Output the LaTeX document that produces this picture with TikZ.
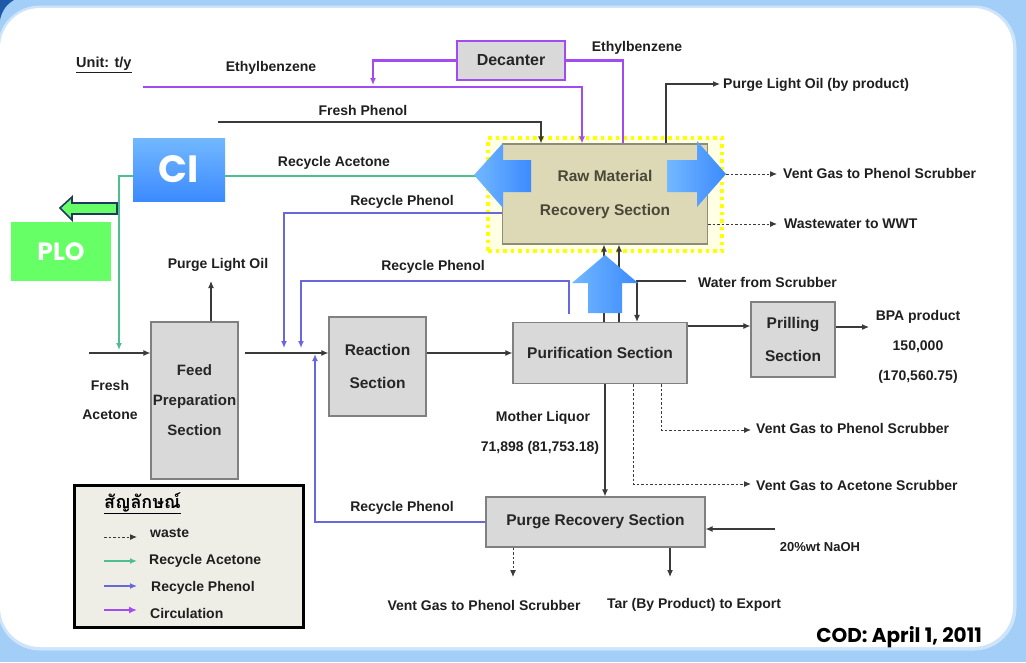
\documentclass[tikz,border=0pt]{standalone}
\usepackage{fontspec}
\setmainfont{Liberation Sans}
\newfontfamily\popfont{Poppins}
\newfontfamily\thaifont[Script=Thai]{Loma}
\usetikzlibrary{arrows.meta,calc}
\definecolor{framebl}{HTML}{A3CEF7}
\definecolor{framedk}{HTML}{1F5AA8}
\definecolor{boxgray}{HTML}{D9D9D9}
\definecolor{boxline}{HTML}{808080}
\definecolor{rawfill}{HTML}{DDD9B6}
\definecolor{rawline}{HTML}{8C8C78}
\definecolor{rawtext}{HTML}{4A4838}
\definecolor{purp}{HTML}{A24BF0}
\definecolor{accg}{HTML}{4DBF8F}
\definecolor{phbl}{HTML}{6868DC}
\definecolor{flowc}{HTML}{3A3A3A}
\definecolor{ydot}{HTML}{FFFF00}
\definecolor{yfill}{HTML}{FFFFE3}
\definecolor{bluelt}{HTML}{72B8FF}
\definecolor{bluedk}{HTML}{3C8AFF}
\definecolor{plog}{HTML}{66FF66}
\definecolor{navy}{HTML}{1F3A5C}
\definecolor{legfill}{HTML}{EFEEE6}
\tikzset{
  box/.style={draw=boxline, fill=boxgray, line width=1.2pt, inner sep=0pt, align=center, text=black!85, font=\fontsize{15.5}{33}\selectfont\bfseries},
  lbl/.style={inner sep=0pt, text=black!88, font=\fontsize{14}{16}\selectfont\bfseries},
  smalltip/.style={-{Latex[length=7pt,width=6pt]}},
  flow/.style={draw=flowc, line width=1.1pt, smalltip},
  waste/.style={draw=flowc, line width=1pt, dash pattern=on 2.5pt off 2pt, smalltip},
  circ/.style={draw=purp, line width=2.2pt},
  acc/.style={draw=accg, line width=1.6pt, smalltip},
  rp/.style={draw=phbl, line width=1.3pt, smalltip},
  bigarrow/.style={left color=bluelt, right color=bluedk, draw=none},
}
\begin{document}
\begin{tikzpicture}[x=1pt,y=-1pt]
\useasboundingbox (0,0) rectangle (1026,662);
% frame
\fill[framebl] (0,0) rectangle (1026,662);
\fill[framedk] (0,0) -- (14,0) .. controls (7,4) and (2,10) .. (0,20) -- cycle;
\draw[framebl!55, line width=5pt, rounded corners=40pt] (0,8) rectangle (1014,648);
\fill[white, rounded corners=40pt] (0,8) rectangle (1013,647);

% zone and boxes
\node[draw=ydot, fill=yfill, line width=3.5pt, dash pattern=on 3.5pt off 4pt, minimum width=234pt, minimum height=113pt, inner sep=0pt] (yzone) at (605,194.5) {};
\node[box, draw=purp, line width=2pt, minimum width=108pt, minimum height=39pt, font=\fontsize{16}{18}\selectfont\bfseries] (dec) at (511,60.5) {Decanter};
\node[box, fill=rawfill, draw=rawline, text=rawtext, minimum width=205pt, minimum height=100pt, font=\fontsize{15.5}{34}\selectfont\bfseries] (raw) at (605,194) {Raw Material\\Recovery Section};
\node[box, minimum width=87pt, minimum height=157pt, font=\fontsize{15}{30}\selectfont\bfseries] (feed) at (194.5,400.5) {Feed\\Preparation\\Section};
\node[box, minimum width=97pt, minimum height=99pt] (react) at (377.5,366.5) {Reaction\\Section};
\node[box, minimum width=174pt, minimum height=61pt] (purif) at (600,353) {Purification Section};
\node[box, minimum width=84pt, minimum height=75pt] (prill) at (793,339.5) {Prilling\\Section};
\node[box, minimum width=219pt, minimum height=50pt] (purge) at (595.5,522) {Purge Recovery Section};

% coordinates for free ends
\coordinate (eb0) at (143,87);
\coordinate (ebj) at (373,85);
\coordinate (fp0) at (218,122);
\coordinate (plo1) at (720,84);
\coordinate (acj) at (119,350);
\coordinate (rp1j) at (284,348);
\coordinate (rp2c) at (301,281);
\coordinate (rp2j) at (301,348);
\coordinate (rp3j) at (315,354);
\coordinate (fa0) at (89,353);
\coordinate (plo2) at (211,281);
\coordinate (fo0) at (245,353);
\coordinate (bpa) at (869,327);
\coordinate (wfs) at (686,281);
\coordinate (vg1) at (777,174);
\coordinate (ww) at (777,224);
\coordinate (vg2) at (751,430);
\coordinate (vg3) at (751,484);
\coordinate (naoh) at (775,529);
\coordinate (vg4) at (513,577);
\coordinate (tar) at (670,577);

% circulation (purple)
\draw[circ, smalltip] (eb0) -| ([xshift=-23pt]raw.north);
\draw[circ, smalltip] (dec.west) -| (ebj);
\draw[circ] (dec.east) -| ([xshift=18pt]raw.north);

% grey flows
\draw[flow] (fp0) -| ([xshift=-64pt]raw.north);
\draw[flow] ([xshift=61pt]raw.north) |- (plo1);
\draw[flow] (fa0) -- (fa0 -| feed.west);
\draw[flow] ([xshift=16.5pt]feed.north) -- (plo2);
\draw[flow] (fo0) -- (fo0 -| react.west);
\draw[flow] (react.east |- purif.west) -- (purif.west);
\draw[flow] ([yshift=27pt]purif.east) -- ([yshift=27pt]purif.east -| prill.west);
\draw[flow] (prill.east |- bpa) -- (bpa);
\draw[flow] ([xshift=4pt]purif.north) -- ([xshift=4pt]purif.north |- raw.south);
\draw[flow] ([xshift=19pt]purif.north) -- ([xshift=19pt]purif.north |- raw.south);
\draw[flow] (wfs) -| ([xshift=37pt]purif.north);
\draw[flow] ([xshift=5pt]purif.south) -- ([xshift=5pt]purif.south |- purge.north);
\draw[flow] (naoh) -- (naoh -| purge.east);
\draw[flow] (purge.south -| tar) -- (tar);

% waste
\draw[waste] ([yshift=20pt]raw.east) -- (vg1);
\draw[waste] ([yshift=-30pt]raw.east) -- (ww);
\draw[waste] ([xshift=61pt]purif.south) |- (vg2);
\draw[waste] ([xshift=33pt]purif.south) |- (vg3);
\draw[waste] (purge.south -| vg4) -- (vg4);

% recycle acetone and phenol
\draw[acc] ([yshift=18pt]raw.west) -| (acj);
\draw[rp] ([yshift=-19pt]raw.west) -| (rp1j);
\draw[rp] ([xshift=-31pt,yshift=8pt]purif.north) |- (rp2c) -- (rp2j);
\draw[rp] (purge.west) -| (rp3j);

% big blue arrows
\shade[bigarrow] (474,175) -- (503,143) -- (503,160) -- (531,160) -- (531,192) -- (503,192) -- (503,208) -- cycle;
\shade[bigarrow] (726,174) -- (697,141) -- (697,160) -- (667,160) -- (667,192) -- (697,192) -- (697,207) -- cycle;
\shade[bigarrow] (605,255) -- (638,283) -- (622,283) -- (622,313) -- (588,313) -- (588,283) -- (572,283) -- cycle;

% labels
\node[lbl, anchor=west, font=\fontsize{14.5}{16}\selectfont\bfseries] (unit) at (76,65) {\underline{Unit: t/y}};
\node[lbl] (ebl1) at (271,68) {Ethylbenzene};
\node[lbl] (ebl2) at (637,48) {Ethylbenzene};
\node[lbl] (fpl) at (363,110) {Fresh Phenol};
\node[lbl, anchor=west] (plol1) at (723,85) {Purge Light Oil (by product)};
\node[lbl] (racl) at (334,163) {Recycle Acetone};
\node[lbl] (rpl1) at (402,202) {Recycle Phenol};
\node[lbl] (rpl2) at (433,267) {Recycle Phenol};
\node[lbl] (rpl3) at (402,508) {Recycle Phenol};
\node[lbl, anchor=west] (vgl1) at (783,173) {Vent Gas to Phenol Scrubber};
\node[lbl, anchor=west] (wwl) at (784,224) {Wastewater to WWT};
\node[lbl, anchor=west] (wfsl) at (698,282) {Water from Scrubber};
\node[lbl] (plol2) at (218,265) {Purge Light Oil};
\node[lbl, align=center, font=\fontsize{14}{29}\selectfont\bfseries] (fal) at (110,399.5) {Fresh\\Acetone};
\node[lbl, align=center, font=\fontsize{14}{30}\selectfont\bfseries] (bpal) at (918,346.5) {BPA product\\150,000\\(170,560.75)};
\node[lbl] (mll) at (543,418) {Mother Liquor};
\node[lbl] (mlv) at (540,448) {71,898 (81,753.18)};
\node[lbl, anchor=west] (vgl2) at (756,428) {Vent Gas to Phenol Scrubber};
\node[lbl, anchor=west] (vgl3) at (756,485) {Vent Gas to Acetone Scrubber};
\node[lbl, font=\fontsize{13}{16}\selectfont\bfseries] (naohl) at (820,547) {20\%wt NaOH};
\node[lbl] (vgl4) at (484,605) {Vent Gas to Phenol Scrubber};
\node[lbl] (tarl) at (694,605) {Tar (By Product) to Export};

% CI / PLO
\node[top color=bluelt, bottom color=bluedk, minimum width=92pt, minimum height=63pt, inner sep=0pt, text=white, font=\popfont\fontsize{38}{40}\selectfont\bfseries] (ci) at (179,169.5) {CI};
\node[fill=plog, minimum width=100pt, minimum height=59pt, inner sep=0pt, text=white, font=\popfont\fontsize{25}{27}\selectfont\bfseries] (plo) at (61,251.5) {PLO};
\draw[navy, line width=1.6pt, fill=plog, line join=miter] (60,208) -- (72,197) -- (72,203) -- (117,203) -- (117,214) -- (72,214) -- (72,220) -- cycle;

% legend
\node[draw=black, line width=2.5pt, fill=legfill, minimum width=229pt, minimum height=142pt, inner sep=0pt] (legend) at (189,556.5) {};
\node[inner sep=0pt, anchor=west, font=\thaifont\fontsize{18}{20}\selectfont\bfseries] (legt) at (104,503) {\underline{สัญลักษณ์}};
\coordinate (lg1a) at (104,537); \coordinate (lg1b) at (137,537);
\coordinate (lg2a) at (104,561); \coordinate (lg2b) at (137,561);
\coordinate (lg3a) at (104,586); \coordinate (lg3b) at (137,586);
\coordinate (lg4a) at (104,610); \coordinate (lg4b) at (137,610);
\draw[waste] (lg1a) -- (lg1b);
\draw[acc] (lg2a) -- (lg2b);
\draw[rp] (lg3a) -- (lg3b);
\draw[circ, -{Latex[length=8pt,width=7pt]}] (lg4a) -- (lg4b);
\node[lbl, anchor=west] (lgw) at (150,533) {waste};
\node[lbl, anchor=west] (lga) at (149,561) {Recycle Acetone};
\node[lbl, anchor=west] (lgp) at (151,588) {Recycle Phenol};
\node[lbl, anchor=west] (lgc) at (150,613) {Circulation};

% COD
\node[inner sep=0pt, anchor=east, font=\popfont\fontsize{20}{22}\selectfont\bfseries] (cod) at (982,637) {COD: April 1, 2011};
\end{tikzpicture}
\end{document}
